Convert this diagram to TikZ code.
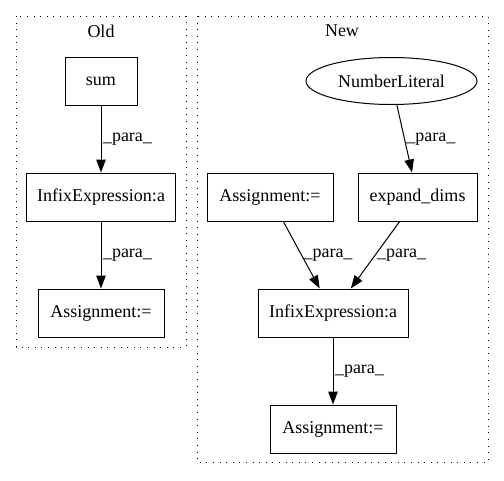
\documentclass[tikz,border=0pt]{standalone}
\usepackage{fontspec}
\setmainfont{Liberation Serif}
\usetikzlibrary{arrows.meta}
\usetikzlibrary{shapes.geometric}
\tikzset{box/.style = {draw, rectangle, minimum height=48pt, inner sep=0}}
\tikzset{lit/.style = {draw, ellipse, minimum width=171pt, minimum height=47pt, inner sep=0}}
\tikzset{cluster/.style = {line width=1pt, dash pattern=on 1pt off 5.6pt}}
\tikzset{para/.style = {-{Triangle[length=13pt, width=9.5pt]}}}
\tikzset{lbl/.style = {right, inner sep=1.5pt}}

\begin{document}
\begin{tikzpicture}[x=1pt, y=-1pt, line width=1pt, font=\fontsize{18}{21}\selectfont]
    \useasboundingbox (0, 0) rectangle (504, 480);

    % clusters
    \draw [cluster] (16, 16) rectangle (186, 347);
    \draw [cluster] (197, 16) rectangle (488, 462);
    \node (oldtitle) at (101, 31) {Old};
    \node (newtitle) at (342, 31) {New};

    % old
    \node [box, minimum width=72pt] (sum) at (101, 81) {sum};
    \node [box, minimum width=149pt] (infixold) at (101, 197) {InfixExpression:a};
    \node [box, minimum width=126pt] (assignold) at (101, 313) {Assignment:=};

    \draw [para] (sum) -- (infixold) node [lbl, midway] {\_para\_};
    \draw [para] (infixold) -- (assignold) node [lbl, midway] {\_para\_};

    % new
    \node [lit] (numlit) at (391.5, 81) {NumberLiteral};
    \node [box, minimum width=126pt] (assignnew) at (270, 197) {Assignment:=};
    \node [box, minimum width=119pt] (expand) at (417.5, 197) {expand\_dims};
    \node [box, minimum width=150pt] (infixnew) at (333, 313) {InfixExpression:a};
    \node [box, minimum width=126pt] (assignout) at (333, 429) {Assignment:=};

    \draw [para] (numlit) -- (expand) node [lbl, midway] {\_para\_};
    \draw [para] (assignnew) -- (infixnew) node [lbl, midway] {\_para\_};
    \draw [para] (expand) -- (infixnew) node [lbl, midway] {\_para\_};
    \draw [para] (infixnew) -- (assignout) node [lbl, midway] {\_para\_};
  \end{tikzpicture}
\end{document}
